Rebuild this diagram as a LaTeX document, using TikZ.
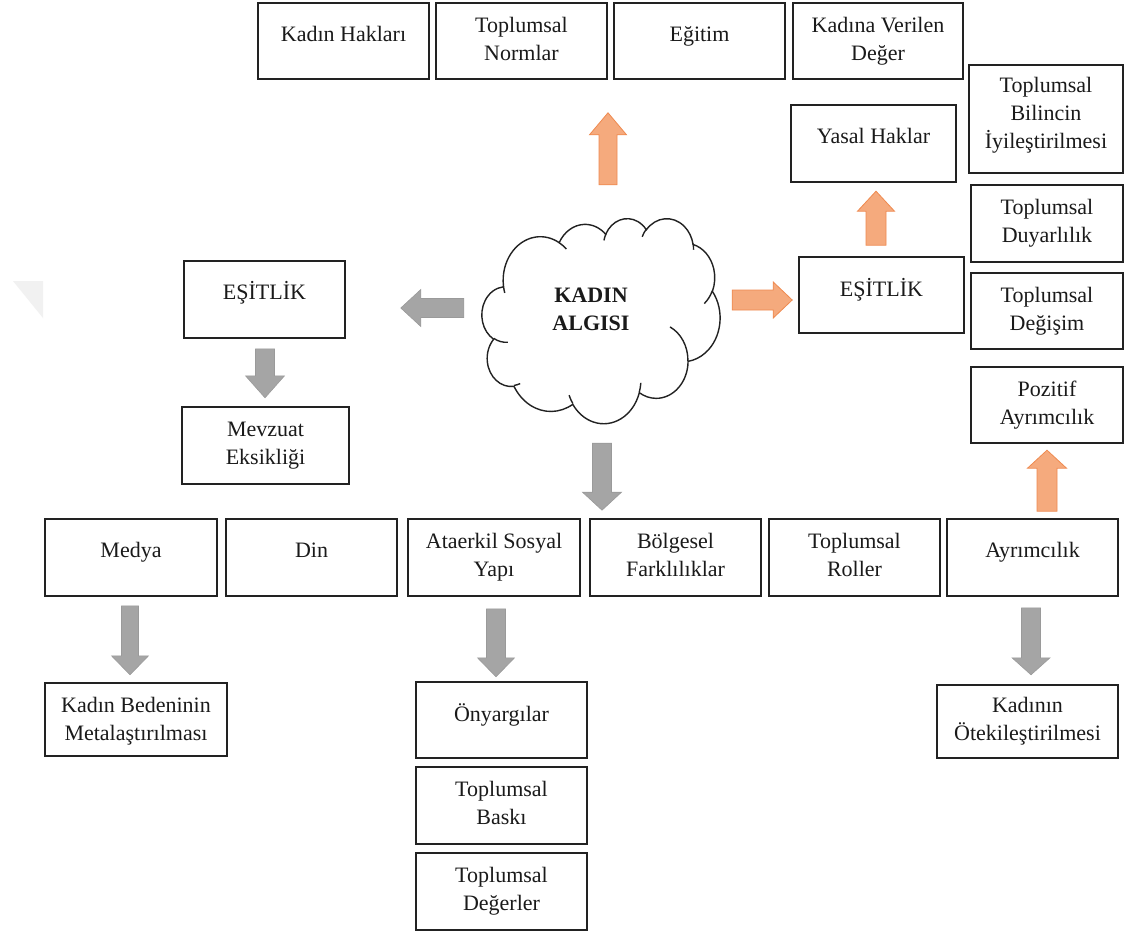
\documentclass[tikz,border=0pt]{standalone}
\usepackage{fontspec}
\setmainfont{Liberation Serif}
\usetikzlibrary{calc}
\definecolor{boxline}{HTML}{222222}
\definecolor{garrowfill}{HTML}{A5A5A5}
\definecolor{garrowline}{HTML}{9A9A9A}
\definecolor{oarrowfill}{HTML}{F5AA7D}
\definecolor{oarrowline}{HTML}{EF8A50}
\definecolor{txtcol}{HTML}{1A1A1A}
\definecolor{wmark}{HTML}{F1F1F1}

\tikzset{
 bx/.style={draw=boxline, line width=1.6pt, rectangle, inner sep=0pt, fill=white},
 txt/.style={font=\fontsize{22}{28}\selectfont, text=txtcol, inner sep=0pt, anchor=base},
 garr/.style={fill=garrowfill, draw=garrowline, line width=0.6pt, line join=miter},
 oarr/.style={fill=oarrowfill, draw=oarrowline, line width=0.8pt, line join=miter},
}

\newcommand\bbox[5]{\node[bx, minimum width={#3-#2}, minimum height={#5-#4}] (#1) at ({(#2+#3)/2},{(#4+#5)/2}) {};}
\newcommand\btext[3]{\node[txt] (#1t) at ([yshift=-#2pt]#1.north) {\begin{tabular}[t]{@{}c@{}}#3\end{tabular}};}
\newcommand\barrow[7]{\draw[#1, shift={#2}, rotate=#3] (0,-#5) -- ({#4-#7},-#5) -- ({#4-#7},-#6) -- (#4,0) -- ({#4-#7},#6) -- ({#4-#7},#5) -- (0,#5) -- cycle;}

% cloud geometry (Word preset cloud, path units /100)
\def\cX{482}\def\cY{218}\def\cSX{0.550926}\def\cSY{0.474537}
\newcommand\cmove[2]{\pgfmathsetmacro\cpx{\cX+#1*\cSX}\pgfmathsetmacro\cpy{-\cY-#2*\cSY}\pgfpathmoveto{\pgfpoint{\cpx pt}{\cpy pt}}}
\newcommand\cloudarc[4]{%
  \pgfmathsetmacro\cpS{atan2(#1*sin(#3),#2*cos(#3))}%
  \pgfmathsetmacro\cpE{atan2(#1*sin(#3+#4),#2*cos(#3+#4))}%
  \pgfmathsetmacro\cpD{\cpE-\cpS}%
  \pgfmathsetmacro\cpD{ifthenelse(#4>0,ifthenelse(\cpD<0,\cpD+360,\cpD),ifthenelse(\cpD>0,\cpD-360,\cpD))}%
  \pgfmathsetmacro\cpA{-\cpS}%
  \pgfmathsetmacro\cpB{-\cpS-\cpD}%
  \pgfmathsetmacro\cpRX{#1*\cSX}%
  \pgfmathsetmacro\cpRY{#2*\cSY}%
  \pgfpatharc{\cpA}{\cpB}{\cpRX pt and \cpRY pt}}

\begin{document}
\begin{tikzpicture}[x=1pt,y=-1pt]
\fill[white] (0,0) rectangle (1131,933);
\useasboundingbox (0,0) rectangle (1131,933);

% faint watermark
\fill[wmark] (13,281) -- (43,281) -- (43,318) -- cycle;

% cloud
\node[minimum width=238, minimum height=205, inner sep=0pt] (cloud) at (601,320.5) {};
\begin{pgfscope}
\pgfsetlinewidth{1.4pt}\pgfsetstrokecolor{boxline}\pgfsetfillcolor{white}
\cmove{39.00}{143.70}
\cloudarc{67.53}{91.90}{-190.48748}{123.78053}
\cloudarc{53.33}{72.67}{-144.10238}{89.94523}
\cloudarc{43.65}{59.45}{-145.80792}{99.72302}
\cloudarc{48.57}{65.95}{-130.98607}{117.24173}
\cloudarc{53.33}{72.73}{-78.70888}{109.02692}
\cloudarc{67.75}{92.20}{-46.26725}{130.269}
\cloudarc{57.85}{78.67}{0.62502}{114.03333}
\cloudarc{67.52}{92.15}{22.4516}{115.17255}
\cloudarc{77.20}{105.43}{66.24263}{75.71102}
\cloudarc{43.60}{59.18}{-274.94208}{146.73557}
\cloudarc{43.45}{59.45}{-246.8285}{152.51885}
\pgfpathclose
\pgfusepath{fill,stroke}
\cmove{46.93}{261.77}\cloudarc{43.45}{59.45}{86.742}{26.4295}
\cmove{69.28}{348.99}\cloudarc{43.60}{59.18}{73.61047}{11.44747}
\cmove{164.78}{390.90}\cloudarc{67.52}{92.15}{137.62415}{14.0811}
\cmove{288.27}{347.51}\cloudarc{67.52}{92.15}{6.45327}{15.99835}
\cmove{341.29}{229.54}\cloudarc{57.85}{78.67}{-70.29235}{70.91737}
\cmove{417.98}{153.54}\cloudarc{53.33}{72.73}{30.31803}{27.7515}
\cmove{383.24}{54.26}\cloudarc{48.57}{65.95}{-13.74433}{14.8589}
\cmove{290.78}{39.52}\cloudarc{48.57}{65.95}{-149.18145}{18.19537}
\cmove{221.41}{47.20}\cloudarc{43.65}{59.45}{-163.49427}{17.68635}
\cmove{140.00}{51.92}\cloudarc{67.53}{91.90}{-66.70695}{12.31935}
\cmove{41.27}{157.89}\cloudarc{67.53}{91.90}{157.65435}{11.85817}
\pgfusepath{stroke}
\end{pgfscope}
\node[txt, font=\fontsize{22}{28}\selectfont\bfseries] (cloudt) at (591,302) {\begin{tabular}[t]{@{}c@{}}KADIN\\ALGISI\end{tabular}};

% boxes
\bbox{kh}{258}{429}{3}{79} \btext{kh}{39}{Kadın Hakları}
\bbox{tn}{436}{607}{3}{79} \btext{tn}{30}{Toplumsal\\Normlar}
\bbox{eg}{614}{785}{3}{79} \btext{eg}{39}{Eğitim}
\bbox{kv}{793}{963}{3}{79} \btext{kv}{30}{Kadına Verilen\\Değer}
\bbox{yh}{791}{956}{105}{182} \btext{yh}{39}{Yasal Haklar}
\bbox{eqr}{799}{964}{257}{333} \btext{eqr}{40}{EŞİTLİK}
\bbox{tbi}{969}{1123}{65}{173} \btext{tbi}{28}{Toplumsal\\Bilincin\\İyileştirilmesi}
\bbox{tdu}{971}{1123}{185}{262} \btext{tdu}{30}{Toplumsal\\Duyarlılık}
\bbox{tde}{971}{1123}{273}{349} \btext{tde}{30}{Toplumsal\\Değişim}
\bbox{poz}{971}{1123}{367}{443} \btext{poz}{30}{Pozitif\\Ayrımcılık}
\bbox{eql}{184}{345}{261}{338} \btext{eql}{39}{EŞİTLİK}
\bbox{mev}{182}{349}{407}{484} \btext{mev}{30}{Mevzuat\\Eksikliği}
\bbox{med}{45}{217}{519}{596} \btext{med}{39}{Medya}
\bbox{din}{226}{397}{519}{596} \btext{din}{39}{Din}
\bbox{ata}{408}{580}{519}{596} \btext{ata}{30}{Ataerkil Sosyal\\Yapı}
\bbox{bol}{590}{761}{519}{596} \btext{bol}{30}{Bölgesel\\Farklılıklar}
\bbox{rol}{769}{940}{519}{596} \btext{rol}{30}{Toplumsal\\Roller}
\bbox{ayr}{947}{1118}{519}{596} \btext{ayr}{39}{Ayrımcılık}
\bbox{kbm}{45}{227}{683}{756} \btext{kbm}{30}{Kadın Bedeninin\\Metalaştırılması}
\bbox{ony}{416}{587}{682}{758} \btext{ony}{40}{Önyargılar}
\bbox{bas}{416}{587}{767}{844} \btext{bas}{30}{Toplumsal\\Baskı}
\bbox{deg}{416}{587}{853}{930} \btext{deg}{30}{Toplumsal\\Değerler}
\bbox{kot}{937}{1118}{685}{758} \btext{kot}{28}{Kadının\\Ötekileştirilmesi}

% block arrows
\barrow{garr}{($(cloud.west)+(-18,-12.5)$)}{180}{63}{9.5}{18.5}{20}
\barrow{oarr}{($(cloud.east)+(12,-20.5)$)}{0}{60}{10}{18}{19}
\barrow{garr}{($(cloud.south)+(1,20)$)}{-90}{67}{9.5}{19.5}{18}
\barrow{oarr}{($(cloud.north)+(7,-33)$)}{90}{72}{9}{18.5}{22}
\barrow{oarr}{($(eqr.north)+(-5.5,-11)$)}{90}{54}{10}{18.5}{20}
\barrow{garr}{($(eql.south)+(0.5,10)$)}{-90}{49}{9.5}{19.5}{22}
\barrow{garr}{($(med.south)+(-1,9)$)}{-90}{69}{8.5}{18.5}{19}
\barrow{garr}{($(ata.south)+(2,12)$)}{-90}{68}{9.5}{18.5}{19}
\barrow{garr}{($(ayr.south)+(-1.5,11)$)}{-90}{67}{9.5}{19}{17}
\barrow{oarr}{($(ayr.north)+(14.5,-7)$)}{90}{61}{10}{19.5}{18}
\end{tikzpicture}
\end{document}
